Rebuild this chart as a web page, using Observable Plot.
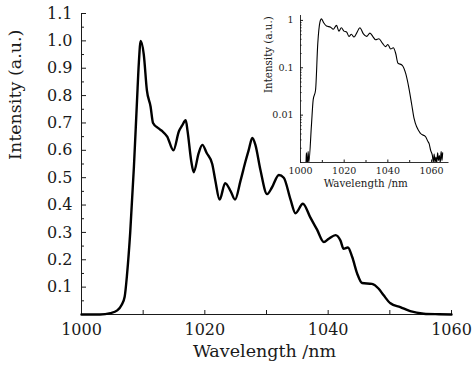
<!DOCTYPE html>
<html>
<head>
<meta charset="utf-8">
<script src="https://cdn.jsdelivr.net/npm/d3@7"></script>
<script src="https://cdn.jsdelivr.net/npm/@observablehq/plot@0.6"></script>
<style>
  html, body { margin: 0; padding: 0; background: #ffffff; }
  #wrap { position: relative; width: 472px; height: 365px; }
  #inset { position: absolute; left: 250px; top: 0px; }
  svg text { font-family: 'DejaVu Serif', serif; }
</style>
</head>
<body>
<div id="wrap"><div id="main"></div><div id="inset"></div></div>
<script>
// ---- Main spectrum (linear scale) ----
const mainWavelength = [1000, 1003, 1004.7, 1005.8, 1006.5, 1007.0, 1007.4, 1007.9, 1008.5, 1009.0, 1009.3, 1009.6,
  1010.1, 1010.6, 1011.2, 1011.6, 1012.5, 1013.1, 1013.9, 1014.9, 1015.8, 1016.3, 1016.9, 1017.2, 1017.8, 1018.2,
  1019.0, 1019.6, 1020.3, 1021.2, 1021.7, 1022.4, 1023.3, 1024.2, 1024.9, 1025.8, 1026.6, 1027.1, 1027.7, 1028.2,
  1029.0, 1030.1, 1030.9, 1032.0, 1032.8, 1033.9, 1034.7, 1035.9, 1037.1, 1038.2, 1039.3, 1040.1, 1041.2, 1042.0,
  1042.5, 1043.2, 1043.9, 1044.7, 1045.5, 1047.1, 1048.2, 1049.0, 1050.1, 1051.7, 1053.3, 1055.5, 1058, 1060];
const mainIntensity = [0, 0.0, 0.005, 0.015, 0.035, 0.065, 0.15, 0.30, 0.54, 0.78, 0.92, 1.00,
  0.95, 0.82, 0.76, 0.70, 0.68, 0.67, 0.65, 0.60, 0.67, 0.69, 0.71, 0.67, 0.56, 0.52,
  0.59, 0.62, 0.59, 0.55, 0.49, 0.42, 0.48, 0.45, 0.42, 0.49, 0.56, 0.60, 0.645, 0.62,
  0.53, 0.44, 0.465, 0.51, 0.50, 0.42, 0.37, 0.405, 0.355, 0.31, 0.265, 0.277, 0.29, 0.27,
  0.24, 0.245, 0.21, 0.15, 0.115, 0.112, 0.094, 0.07, 0.041, 0.027, 0.012, 0.003, 0.001, 0];

const mainXTicks = [1000, 1020, 1040, 1060];
const mainXMinor = [1010, 1030, 1050];
const mainYTicks = [0.1, 0.2, 0.3, 0.4, 0.5, 0.6, 0.7, 0.8, 0.9, 1.0, 1.1];
const mainYMinor = [0.05, 0.15, 0.25, 0.35, 0.45, 0.55, 0.65, 0.75, 0.85, 0.95, 1.05];

// ---- Inset spectrum (log scale) ----
const insetWavelength = [1002.0, 1002.5, 1002.7, 1003.0, 1003.2, 1003.5, 1003.8, 1005.0, 1005.8, 1006.9, 1007.9, 1008.9, 1009.6,
  1010.7, 1011.9, 1013.8, 1015.0, 1016.5, 1017.6, 1018.7, 1019.9, 1021.1, 1022.2, 1023.3, 1024.5,
  1025.7, 1027.2, 1028.8, 1030.3, 1031.8, 1033.3, 1034.4, 1035.9, 1037.5, 1039.0, 1040.0, 1041.3,
  1042.5, 1043.6, 1044.6, 1046.6, 1048.2, 1049.7, 1051.0, 1052.0, 1055.0, 1057.3, 1058.3, 1058.9, 1059.6, 1060.4,
  1060.8, 1061.2, 1061.6, 1062.0, 1062.4, 1062.8, 1063.2, 1063.6, 1064.0, 1064.4, 1064.8, 1065.1];
const insetIntensity = [0.001, 0.001, 0.0016, 0.001, 0.001, 0.0017, 0.001, 0.006, 0.021, 0.034, 0.32, 0.92, 1.08,
  0.88, 0.76, 0.72, 0.65, 0.785, 0.59, 0.70, 0.595, 0.57, 0.46, 0.51, 0.445,
  0.54, 0.70, 0.52, 0.46, 0.54, 0.445, 0.39, 0.41, 0.33, 0.28, 0.31, 0.25,
  0.265, 0.20, 0.126, 0.113, 0.075, 0.036, 0.016, 0.0085, 0.0041, 0.0035, 0.0028, 0.0025, 0.0018, 0.0014,
  0.0010, 0.0015, 0.0010, 0.0013, 0.0010, 0.0016, 0.0011, 0.0014, 0.0010, 0.0017, 0.0011, 0.0016];

const insetXTicks = [1000, 1020, 1040, 1060];
const insetXMinor = [1010, 1030, 1050];
const insetYTicks = [1, 0.1, 0.01];
const insetYMinor = [];
for (const dec of [0.001, 0.01, 0.1]) for (let m = 2; m <= 9; m++) insetYMinor.push(+(dec * m).toPrecision(3));
insetYMinor.push(0.001);

const mainData = mainWavelength.map((w, i) => ({w, v: mainIntensity[i]}));
const insetData = insetWavelength.map((w, i) => ({w, v: insetIntensity[i]}));

const serif = "'DejaVu Serif', serif";
const ink = "#1a1a1a";

const main = Plot.plot({
  width: 472, height: 365,
  marginLeft: 81, marginRight: 21, marginTop: 13, marginBottom: 51,
  style: {fontFamily: serif, background: "#ffffff", color: ink},
  x: {domain: [1000, 1060]},
  y: {domain: [0, 1.1]},
  marks: [
    Plot.axisX({ticks: mainXTicks, tickSize: -4, tickPadding: 13, tickFormat: d => String(d), fontSize: 16, fontFamily: serif, label: null}),
    Plot.axisX({ticks: mainXMinor, tickSize: -4, tickFormat: () => "", label: null}),
    Plot.axisY({ticks: mainYTicks, tickSize: -5, tickPadding: 14, tickFormat: d3.format(".1f"), fontSize: 16, fontFamily: serif, label: null}),
    Plot.axisY({ticks: mainYMinor, tickSize: -3, tickFormat: () => "", label: null}),
    Plot.ruleX([1000], {stroke: ink}),
    Plot.ruleY([0], {stroke: ink}),
    Plot.line(mainData, {x: "w", y: "v", stroke: "#000", strokeWidth: 2.4, curve: "monotone-x"}),
    Plot.text(["Wavelength /nm"], {text: d => d, frameAnchor: "bottom", lineAnchor: "top", dy: 30, dx: -2, fontSize: 17.5, fontFamily: serif, fill: ink}),
    Plot.text(["Intensity (a.u.)"], {text: d => d, frameAnchor: "left", rotate: -90, dx: -66, dy: -4, fontSize: 17.5, fontFamily: serif, fill: ink})
  ]
});
document.getElementById("main").appendChild(main);

const inset = Plot.plot({
  width: 215, height: 195,
  marginLeft: 50, marginRight: 16.5, marginTop: 15, marginBottom: 33,
  style: {fontFamily: serif, background: "transparent", color: ink},
  x: {domain: [1000, 1068]},
  y: {type: "log", domain: [0.001, 1.27]},
  marks: [
    Plot.axisX({ticks: insetXTicks, tickSize: -2.5, tickPadding: 7.5, tickFormat: d => String(d), fontSize: 9.5, fontFamily: serif, label: null}),
    Plot.axisX({ticks: insetXMinor, tickSize: -2, tickFormat: () => "", label: null}),
    Plot.axisY({ticks: insetYTicks, tickSize: -3, tickPadding: 10, tickFormat: d => String(d), fontSize: 9.5, fontFamily: serif, label: null}),
    Plot.axisY({ticks: insetYMinor, tickSize: -1.5, tickFormat: () => "", label: null}),
    Plot.ruleX([1000], {stroke: ink, strokeWidth: 0.9}),
    Plot.ruleY([0.001], {stroke: ink, strokeWidth: 0.9}),
    Plot.line(insetData, {x: "w", y: "v", stroke: "#000", strokeWidth: 1.1, curve: "monotone-x", clip: true}),
    Plot.text(["Wavelength /nm"], {text: d => d, frameAnchor: "bottom", lineAnchor: "top", dy: 17, dx: -9, fontSize: 10.3, fontFamily: serif, fill: ink}),
    Plot.text(["Intensity (a.u.)"], {text: d => d, frameAnchor: "left", rotate: -90, dx: -32, dy: 4, fontSize: 10.3, fontFamily: serif, fill: ink})
  ]
});
document.getElementById("inset").appendChild(inset);
</script>
</body>
</html>
